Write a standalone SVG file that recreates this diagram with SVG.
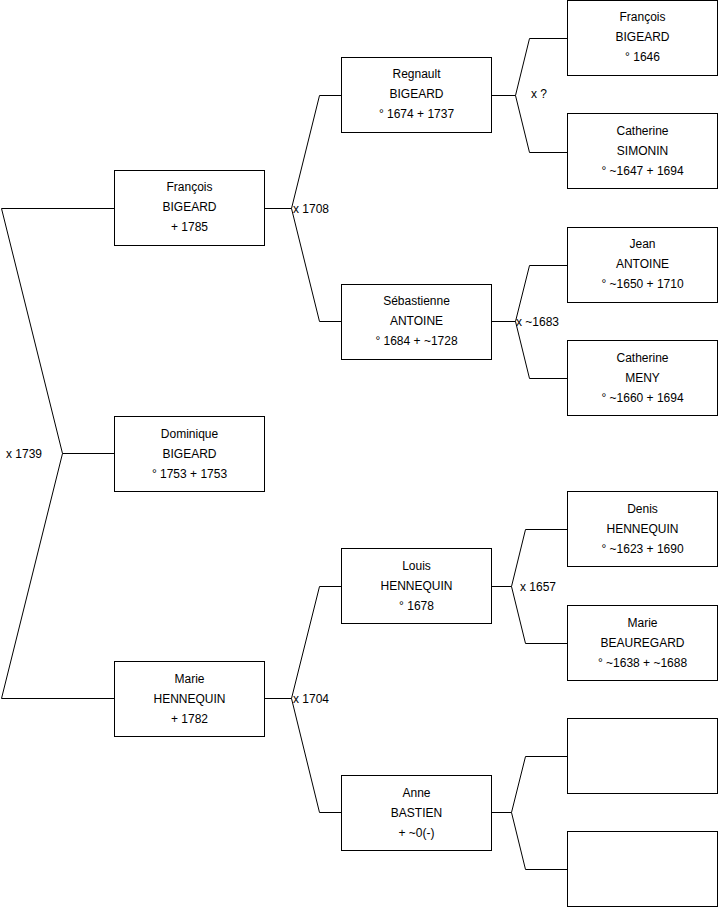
<svg xmlns="http://www.w3.org/2000/svg" width="719" height="908" viewBox="0 0 719 908">
<style>
.box{fill:#fff;stroke:#000;stroke-width:1}
.c{fill:none;stroke:#000;stroke-width:1}
text{font-family:"Liberation Sans",Arial,sans-serif;font-size:12px;fill:#000}
.m{text-anchor:middle}
</style>
<rect width="719" height="908" fill="#fff"/>
<g id="connectors">
<path class="c" d="M114.5,208.5 H1.5 L62.5,453.5 L1.5,698.5 H114.5 M62.5,453.5 H114.5"/>
<path class="c" d="M264.5,208.5 H291.5 M341.5,95.5 H319.5 L291.5,208.5 L319.5,321.5 H341.5"/>
<path class="c" d="M264.5,698.5 H291.5 M341.5,586.5 H319.5 L291.5,698.5 L319.5,812.5 H341.5"/>
<path class="c" d="M491.5,95.5 H515.5 M567.5,38.5 H529.5 L515.5,95.5 L529.5,152.5 H567.5"/>
<path class="c" d="M491.5,321.5 H515.5 M567.5,265.5 H529.5 L515.5,321.5 L529.5,378.5 H567.5"/>
<path class="c" d="M491.5,586.5 H511.5 M567.5,529.5 H525.5 L511.5,586.5 L525.5,643.5 H567.5"/>
<path class="c" d="M491.5,812.5 H511.5 M567.5,756.5 H525.5 L511.5,812.5 L525.5,869.5 H567.5"/>
<text x="6" y="458">x 1739</text>
<text x="293" y="213">x 1708</text>
<text x="293" y="703">x 1704</text>
<text x="531" y="98">x ?</text>
<text x="516" y="326">x ~1683</text>
<text x="520" y="591">x 1657</text>
</g>
<g id="n-francois-1785"><rect class="box" x="114.5" y="170.5" width="150" height="75"/><text class="m" x="189.5" y="191">François</text><text class="m" x="189.5" y="211">BIGEARD</text><text class="m" x="189.5" y="231">+ 1785</text></g>
<g id="n-dominique"><rect class="box" x="114.5" y="416.5" width="150" height="75"/><text class="m" x="189.5" y="438">Dominique</text><text class="m" x="189.5" y="458">BIGEARD</text><text class="m" x="189.5" y="478">° 1753 + 1753</text></g>
<g id="n-marie-hennequin"><rect class="box" x="114.5" y="661.5" width="150" height="75"/><text class="m" x="189.5" y="683">Marie</text><text class="m" x="189.5" y="703">HENNEQUIN</text><text class="m" x="189.5" y="723">+ 1782</text></g>
<g id="n-regnault"><rect class="box" x="341.5" y="57.5" width="150" height="75"/><text class="m" x="416.5" y="78">Regnault</text><text class="m" x="416.5" y="98">BIGEARD</text><text class="m" x="416.5" y="118">° 1674 + 1737</text></g>
<g id="n-sebastienne"><rect class="box" x="341.5" y="284.5" width="150" height="75"/><text class="m" x="416.5" y="305">Sébastienne</text><text class="m" x="416.5" y="325">ANTOINE</text><text class="m" x="416.5" y="345">° 1684 + ~1728</text></g>
<g id="n-louis"><rect class="box" x="341.5" y="548.5" width="150" height="75"/><text class="m" x="416.5" y="570">Louis</text><text class="m" x="416.5" y="590">HENNEQUIN</text><text class="m" x="416.5" y="610">° 1678</text></g>
<g id="n-anne"><rect class="box" x="341.5" y="775.5" width="150" height="75"/><text class="m" x="416.5" y="797">Anne</text><text class="m" x="416.5" y="817">BASTIEN</text><text class="m" x="416.5" y="837">+ ~0(-)</text></g>
<g id="n-francois-1646"><rect class="box" x="567.5" y="0.5" width="150" height="75"/><text class="m" x="642.5" y="21">François</text><text class="m" x="642.5" y="41">BIGEARD</text><text class="m" x="642.5" y="61">° 1646</text></g>
<g id="n-catherine-simonin"><rect class="box" x="567.5" y="113.5" width="150" height="75"/><text class="m" x="642.5" y="135">Catherine</text><text class="m" x="642.5" y="155">SIMONIN</text><text class="m" x="642.5" y="175">° ~1647 + 1694</text></g>
<g id="n-jean-antoine"><rect class="box" x="567.5" y="227.5" width="150" height="75"/><text class="m" x="642.5" y="248">Jean</text><text class="m" x="642.5" y="268">ANTOINE</text><text class="m" x="642.5" y="288">° ~1650 + 1710</text></g>
<g id="n-catherine-meny"><rect class="box" x="567.5" y="340.5" width="150" height="75"/><text class="m" x="642.5" y="362">Catherine</text><text class="m" x="642.5" y="382">MENY</text><text class="m" x="642.5" y="402">° ~1660 + 1694</text></g>
<g id="n-denis"><rect class="box" x="567.5" y="491.5" width="150" height="75"/><text class="m" x="642.5" y="513">Denis</text><text class="m" x="642.5" y="533">HENNEQUIN</text><text class="m" x="642.5" y="553">° ~1623 + 1690</text></g>
<g id="n-marie-beauregard"><rect class="box" x="567.5" y="605.5" width="150" height="75"/><text class="m" x="642.5" y="627">Marie</text><text class="m" x="642.5" y="647">BEAUREGARD</text><text class="m" x="642.5" y="667">° ~1638 + ~1688</text></g>
<g id="n-empty-1"><rect class="box" x="567.5" y="718.5" width="150" height="75"/></g>
<g id="n-empty-2"><rect class="box" x="567.5" y="831.5" width="150" height="75"/></g>
</svg>
